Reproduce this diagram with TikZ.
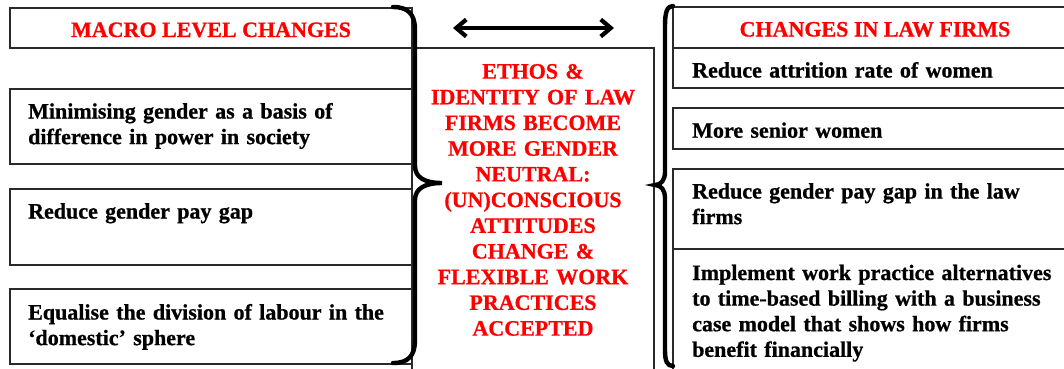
\documentclass[tikz,border=0pt]{standalone}
\usepackage{fontspec}
\setmainfont{Liberation Serif}[BoldFeatures={FakeBold=0.8}]
\usetikzlibrary{arrows.meta}
\definecolor{boxline}{HTML}{2A2A2A}
\definecolor{hdred}{HTML}{FF0000}
\tikzset{
  box/.style={draw=boxline, line width=1.4pt, anchor=north west, inner sep=0pt, outer sep=0pt},
  txt/.style={anchor=base west, inner sep=0pt, align=left, text width=#1,
              font=\fontsize{22}{25.6}\selectfont\bfseries},
  hdr/.style={anchor=base, inner sep=0pt, text=hdred,
              font=\fontsize{22}{25.6}\selectfont\bfseries},
  ctxt/.style={anchor=base, inner sep=0pt, align=center, text width=236pt, text=hdred,
              font=\fontsize{22}{25.7}\selectfont\bfseries},
  brace/.style={draw=black, line width=4.4pt, line cap=round},
  dblarrow/.style={draw=black, line width=4.4pt,
     {Straight Barb[length=10pt,width=17pt,line width=4.2pt]}-{Straight Barb[length=10pt,width=17pt,line width=4.2pt]}}
}
\begin{document}
\begin{tikzpicture}[x=1pt,y=-1pt]
\useasboundingbox (0,0) rectangle (1064,368);
\fill[white] (0,0) rectangle (1064,368);

% left column
\node[box, minimum width=402pt, minimum height=40pt] (L0) at (10,8) {};
\node[box, minimum width=402pt, minimum height=75pt] (L1) at (10,89) {};
\node[box, minimum width=402pt, minimum height=76pt] (L2) at (10,189) {};
\node[box, minimum width=402pt, minimum height=75pt] (L3) at (10,289) {};

% centre box
\node[box, minimum width=242pt, minimum height=330pt] (C) at (412,48) {};

% right column
\node[box, minimum width=405pt, minimum height=41pt] (R0) at (673,7) {};
\node[box, minimum width=405pt, minimum height=40pt] (R1) at (673,48) {};
\node[box, minimum width=405pt, minimum height=41pt] (R2) at (673,108) {};
\node[box, minimum width=405pt, minimum height=80pt] (R3) at (673,169) {};
\node[box, minimum width=405pt, minimum height=130pt] (R4) at (673,249) {};

% texts
\node[hdr] (tL0) at (211,37) {MACRO LEVEL CHANGES};
\node[txt=380pt] (tL1) at ([shift={(18,29.5)}]L1.north west) {Minimising gender as a basis of\\difference in power in society};
\node[txt=380pt] (tL2) at ([shift={(18,29.5)}]L2.north west) {Reduce gender pay gap};
\node[txt=380pt] (tL3) at ([shift={(18,30.5)}]L3.north west) {Equalise the division of labour in the\\`domestic' sphere};

\node[ctxt] (tC) at (533,78.6) {ETHOS \&\\IDENTITY OF LAW\\FIRMS BECOME\\MORE GENDER\\NEUTRAL:\\(UN)CONSCIOUS\\ATTITUDES\\CHANGE \&\\FLEXIBLE WORK\\PRACTICES\\ACCEPTED};

\node[hdr] (tR0) at (875,36.5) {CHANGES IN LAW FIRMS};
\node[txt=370pt] (tR1) at ([shift={(19,29.5)}]R1.north west) {Reduce attrition rate of women};
\node[txt=370pt] (tR2) at ([shift={(19,29.7)}]R2.north west) {More senior women};
\node[txt=370pt] (tR3) at ([shift={(19,29.5)}]R3.north west) {Reduce gender pay gap in the law\\firms};
\node[txt=370pt] (tR4) at ([shift={(19,31)}]R4.north west) {Implement work practice alternatives\\to time-based billing with a business\\case model that shows how firms\\benefit financially};

% braces
\draw[brace] (393,7) .. controls (408,7) and (415,14) .. (415,30) -- (415,166)
  .. controls (415,177) and (424,183) .. (442,183)
  .. controls (424,183) and (415,189) .. (415,200) -- (415,340)
  .. controls (415,356) and (408,363) .. (393,363);
\draw[brace] (673,6) .. controls (667,6) and (665,12) .. (665,26) -- (665,172)
  .. controls (665,180) and (661,185) .. (655,185)
  .. controls (661,185) and (665,190) .. (665,198) -- (665,350)
  .. controls (665,361) and (667,366) .. (673,366);

% double arrow
\coordinate (aL) at (453,28);
\coordinate (aR) at (614,28);
\draw[dblarrow] (aL) -- (aR);
\end{tikzpicture}
\end{document}
